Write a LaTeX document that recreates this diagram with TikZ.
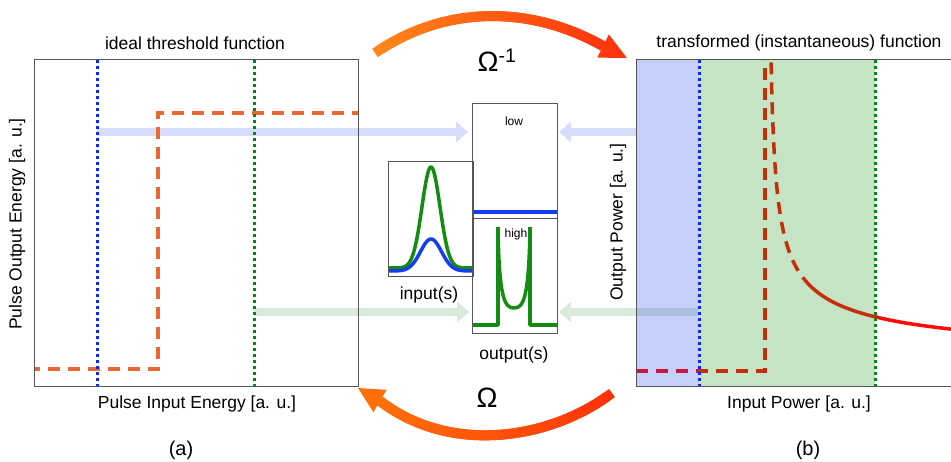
\documentclass[tikz,border=0pt]{standalone}
\usepackage{fontspec}
\setmainfont{Liberation Sans}
\usetikzlibrary{calc,arrows.meta}
\definecolor{dashorange}{RGB}{232,106,50}
\definecolor{dotblue}{RGB}{10,40,250}
\definecolor{dotgreen}{RGB}{0,135,20}
\definecolor{lblue}{RGB}{214,221,250}
\definecolor{lgreen}{RGB}{218,234,218}
\definecolor{ovblue}{RGB}{24,64,236}
\definecolor{ovgreen}{RGB}{31,154,31}
\definecolor{curvered}{RGB}{255,10,0}
\definecolor{framegray}{RGB}{85,85,85}
\definecolor{plotblue}{RGB}{20,60,240}
\definecolor{plotgreen}{RGB}{20,140,20}
\definecolor{arrA}{RGB}{255,135,25}
\definecolor{arrB}{RGB}{255,55,15}
\definecolor{arrC}{RGB}{255,50,10}
\definecolor{arrD}{RGB}{255,112,10}
\pgfmathdeclarefunction{bez}{5}{\pgfmathparse{(1-#1)^3*#2+3*(1-#1)^2*#1*#3+3*(1-#1)*#1^2*#4+#1^3*#5}}
\newcommand\gradarrow[8]{%
  \foreach \i in {0,...,39}{%
    \pgfmathsetmacro\ta{\i/40}%
    \pgfmathsetmacro\tb{min(1,(\i+1)/40)}%
    \pgfmathsetmacro\tc{min(1,(\i+2)/40)}%
    \pgfmathtruncatemacro\pc{100*\i/39}%
    \draw[line width=10pt, line join=round, color=\colB!\pc!\colA]
      ({bez(\ta,#1,#3,#5,#7)},{bez(\ta,#2,#4,#6,#8)}) --
      ({bez(\tb,#1,#3,#5,#7)},{bez(\tb,#2,#4,#6,#8)}) --
      ({bez(\tc,#1,#3,#5,#7)},{bez(\tc,#2,#4,#6,#8)});
  }}
\tikzset{
  frame/.style={draw=framegray, line width=1pt},
  dashln/.style={line width=3.5pt, dash pattern=on 12pt off 8pt},
  dotln/.style={line width=3pt, dash pattern=on 3pt off 3pt},
  lightarr/.style={line width=8pt, -{Triangle[length=12pt,width=20pt]}},
  lab/.style={font=\fontsize{17.5}{21}\selectfont, inner sep=0pt},
  panlab/.style={font=\fontsize{20}{24}\selectfont, inner sep=0pt},
  small/.style={font=\fontsize{12}{14}\selectfont, inner sep=0pt},
  boxnode/.style={anchor=north west, minimum width=85pt, minimum height=115pt, inner sep=0pt, outer sep=0pt},
  plotln/.style={line width=3.5pt, line join=round}
}
\begin{document}
\begin{tikzpicture}[x=1pt,y=-1pt]
\useasboundingbox (0,0) rectangle (951,462);
\fill[white] (0,0) rectangle (951,462);

% middle boxes (placement)
\node[boxnode] (lowbox) at (472,104) {};
\node[boxnode] (highbox) at (472,219) {};
\node[boxnode] (inbox) at (388,162) {};

% coordinates
\coordinate (ablue) at (97,132);
\coordinate (agreen) at (254,312);
\coordinate (bblue) at (636,132);
\coordinate (bgreen) at (698,312);

% light arrows
\draw[lightarr, lblue, shorten >=4pt] (ablue) -- (ablue -| lowbox.west);
\draw[lightarr, lgreen, shorten >=3pt] (agreen) -- (agreen -| highbox.west);
\draw[lightarr, lblue, shorten >=2pt] (bblue) -- (bblue -| lowbox.east);
\draw[lightarr, lgreen, shorten >=2pt] (bgreen) -- (bgreen -| highbox.east);

% left panel
\draw[dashln, dashorange, dash phase=6pt] (34,369) -- (158,369) -- (158,113) -- (358,113);
\draw[dotln, dotblue] (97,60) -- (97,387);
\draw[dotln, dotgreen] (254,60) -- (254,387);
\draw[frame] (34,60) rectangle (358,387);
\node[lab] (atitle) at (195,43) {ideal threshold function};
\node[lab, rotate=90] (aylab) at (17,224) {Pulse Output Energy [a. u.]};
\node[lab] (axlab) at (197,404) {Pulse Input Energy [a. u.]};
\node[panlab] (alabel) at (181,450) {(a)};

% right panel
\draw[dashln, curvered] (636,371) -- (765,371) -- (765,60);
\draw[dashln, curvered] plot[domain=771.1:805, samples=50] (\x,{369-540/sqrt(\x-768)});
\draw[line width=3.5pt, curvered] plot[domain=805:951, samples=50] (\x,{369-540/sqrt(\x-768)});
\fill[ovblue, opacity=.25] (636,60) rectangle (699,387);
\fill[ovgreen, opacity=.26] (699,60) rectangle (875,387);
\draw[dotln, dotblue] (699,60) -- (699,387);
\draw[dotln, dotgreen] (875,60) -- (875,387);
\draw[frame] (951,60) -- (636,60) -- (636,387) -- (951,387);
\node[lab] (btitle) at (799,43) {transformed (instantaneous) function};
\node[lab, rotate=90] (bylab) at (618,222) {Output Power [a. u.]};
\node[lab] (bxlab) at (799,404) {Input Power [a. u.]};
\node[panlab] (blabel) at (808,450) {(b)};

% input plots
\draw[plotln, plotgreen] plot[domain=388:473, samples=100] (\x,{268-101*exp(-((\x-431)^2)/162)});
\draw[plotln, plotblue] plot[domain=388:473, samples=100] (\x,{271-32*exp(-((\x-431)^2)/220)});
% output plots
\draw[plotln, plotblue] (472,212) -- (557,212);
\draw[plotln, plotgreen] (472,325) -- (498,325) -- (498,227);
\draw[plotln, plotgreen] (498,227) .. controls (499,300) and (505,308) .. (514,308) .. controls (523,308) and (529,300) .. (530,227);
\draw[plotln, plotgreen] (530,227) -- (530,325) -- (557,325);

% middle frames
\draw[frame] (inbox.north west) rectangle (inbox.south east);
\draw[frame] (lowbox.north west) rectangle (lowbox.south east);
\draw[frame] (highbox.north west) rectangle (highbox.south east);
\node[small] (lowlab) at (514,121) {low};
\node[small] (highlab) at (516,234) {high};
\node[lab] (inlab) at (429,295) {input(s)};
\node[lab] (outlab) at (514,355) {output(s)};

% Omega labels
\node[font=\fontsize{28}{32}\selectfont] (omegainv) at (497,60) {Ω\textsuperscript{-1}};
\node[font=\fontsize{28}{32}\selectfont] (omega) at (487,398) {Ω};

% big gradient arrows
\coordinate (topbase) at (603,46);
\coordinate (toptip) at (627,58);
\def\colA{arrA}\def\colB{arrB}
\gradarrow{375}{53}{445}{5}{530}{5}{603}{46}
\fill[arrB] (toptip) -- ($(topbase)!13pt!90:(toptip)$) -- ($(topbase)!13pt!-90:(toptip)$) -- cycle;

\coordinate (botbase) at (380,401);
\coordinate (bottip) at (358,388);
\def\colA{arrC}\def\colB{arrD}
\gradarrow{612}{393}{550}{440}{450}{455}{380}{401}
\fill[arrD] (bottip) -- ($(botbase)!13pt!90:(bottip)$) -- ($(botbase)!13pt!-90:(bottip)$) -- cycle;
\end{tikzpicture}
\end{document}
